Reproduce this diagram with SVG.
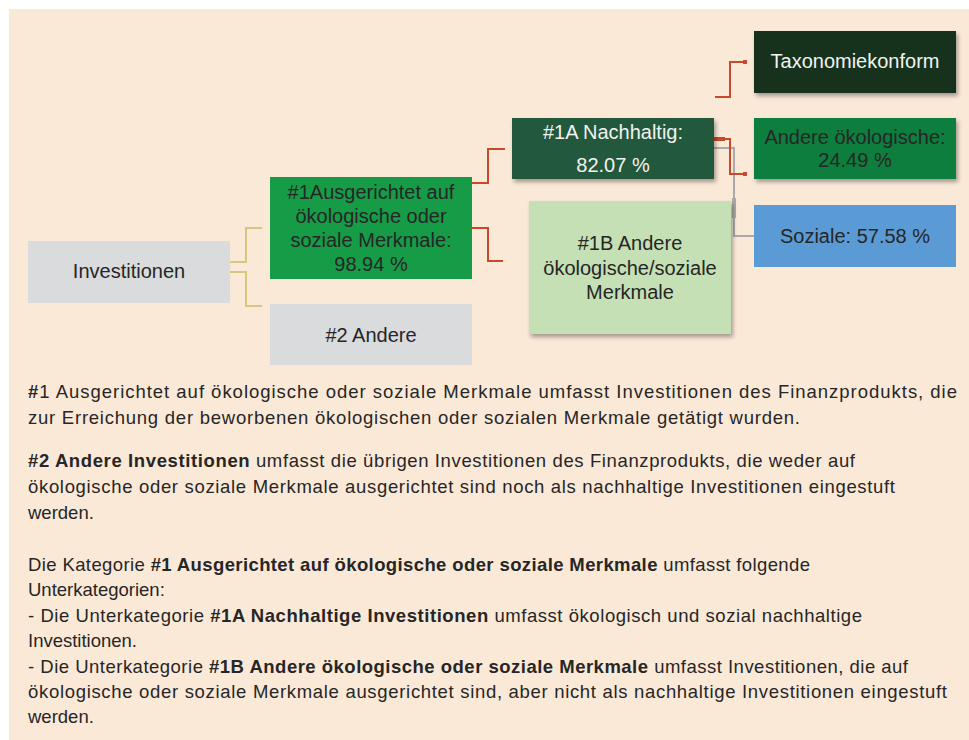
<svg xmlns="http://www.w3.org/2000/svg" width="969" height="740" viewBox="0 0 969 740">
<defs>
<filter id="sh" x="-10%" y="-10%" width="130%" height="140%">
<feDropShadow dx="2" dy="3" stdDeviation="2" flood-color="#000" flood-opacity="0.35"/>
</filter>
<style>
.t{font-family:"Liberation Sans",Arial,sans-serif;font-size:20px;fill:#262626;text-anchor:middle}
.w{fill:#f2f2f2}
.p{font-family:"Liberation Sans",Arial,sans-serif;font-size:18.5px;fill:#262626}
.b{font-weight:bold}
.y{fill:none;stroke:#d8c67e;stroke-width:2}
.r{fill:none;stroke:#c8492b;stroke-width:2}
.g{fill:none;stroke:#a9a9a9;stroke-width:2}
</style>
</defs>
<rect x="0" y="0" width="969" height="740" fill="#ffffff"/>
<rect x="9" y="9" width="960" height="731" fill="#fbe9d8"/>

<g id="connectors">
<path class="y" d="M230,262 H246 V228 H262"/>
<path class="y" d="M230,272 H246 V306 H262"/>
<path class="r" d="M472,183 H488 V149 H505"/>
<path class="r" d="M472,228 H488 V261 H503"/>
<path class="r" d="M715,97 H730 V62 H746"/>
<rect x="743" y="60" width="4" height="4" fill="#c8492b"/>
<path class="g" d="M714,148 H734 V236 H754"/>
<rect x="732" y="198" width="4" height="20" fill="#a9a9a9"/>
<path class="r" d="M714,139 H730 V174 H746"/>
<rect x="714" y="137" width="11" height="4" fill="#c8492b"/>
<rect x="743" y="172" width="4" height="4" fill="#c8492b"/>
</g>

<g id="investitionen">
<rect x="28" y="241" width="202" height="62" fill="#dadbdd"/>
<text class="t" x="129" y="278">Investitionen</text>
</g>

<g id="n1">
<rect x="270" y="177" width="202" height="102" fill="#169b47"/>
<text class="t" x="371" y="199">#1Ausgerichtet auf</text>
<text class="t" x="371" y="223">ökologische oder</text>
<text class="t" x="371" y="247">soziale Merkmale:</text>
<text class="t" x="371" y="271">98.94 %</text>
</g>

<g id="n2">
<rect x="270" y="304" width="202" height="61" fill="#dadbdd"/>
<text class="t" x="371" y="342">#2 Andere</text>
</g>

<g id="n1a">
<rect x="512" y="118" width="202" height="61" fill="#22583a" filter="url(#sh)"/>
<text class="t w" x="613" y="139">#1A Nachhaltig:</text>
<text class="t w" x="613" y="172">82.07 %</text>
</g>

<g id="n1b">
<rect x="529" y="201" width="202" height="133" fill="#c5e0b4" filter="url(#sh)"/>
<text class="t" x="630" y="250">#1B Andere</text>
<text class="t" x="630" y="275">ökologische/soziale</text>
<text class="t" x="630" y="299">Merkmale</text>
</g>

<g id="taxonomie">
<rect x="754" y="31" width="202" height="62" fill="#13301a" filter="url(#sh)"/>
<text class="t w" x="855" y="68">Taxonomiekonform</text>
</g>

<g id="andere-oeko">
<rect x="754" y="118" width="202" height="61" fill="#0f7e3e" filter="url(#sh)"/>
<text class="t" x="855" y="144">Andere ökologische:</text>
<text class="t" x="855" y="167">24.49 %</text>
</g>

<g id="soziale">
<rect x="754" y="205" width="202" height="62" fill="#5b9bd5"/>
<text class="t" x="855" y="243">Soziale: 57.58 %</text>
</g>

<g id="legend">
<text class="p" x="28" y="398" textLength="929" lengthAdjust="spacing"><tspan class="b">#</tspan>1 Ausgerichtet auf ökologische oder soziale Merkmale umfasst Investitionen des Finanzprodukts, die</text>
<text class="p" x="28" y="424" textLength="772" lengthAdjust="spacing">zur Erreichung der beworbenen ökologischen oder sozialen Merkmale getätigt wurden.</text>
<text class="p" x="28" y="467" textLength="827" lengthAdjust="spacing"><tspan class="b">#2 Andere Investitionen</tspan> umfasst die übrigen Investitionen des Finanzprodukts, die weder auf</text>
<text class="p" x="28" y="493" textLength="867" lengthAdjust="spacing">ökologische oder soziale Merkmale ausgerichtet sind noch als nachhaltige Investitionen eingestuft</text>
<text class="p" x="28" y="519">werden.</text>
<text class="p" x="28" y="571" textLength="782" lengthAdjust="spacing">Die Kategorie <tspan class="b">#1 Ausgerichtet auf ökologische oder soziale Merkmale</tspan> umfasst folgende</text>
<text class="p" x="28" y="596">Unterkategorien:</text>
<text class="p" x="28" y="622" textLength="834" lengthAdjust="spacing">- Die Unterkategorie <tspan class="b">#1A Nachhaltige Investitionen</tspan> umfasst ökologisch und sozial nachhaltige</text>
<text class="p" x="28" y="647">Investitionen.</text>
<text class="p" x="28" y="673" textLength="880" lengthAdjust="spacing">- Die Unterkategorie <tspan class="b">#1B Andere ökologische oder soziale Merkmale</tspan> umfasst Investitionen, die auf</text>
<text class="p" x="28" y="698" textLength="919" lengthAdjust="spacing">ökologische oder soziale Merkmale ausgerichtet sind, aber nicht als nachhaltige Investitionen eingestuft</text>
<text class="p" x="28" y="723">werden.</text>
</g>
</svg>
